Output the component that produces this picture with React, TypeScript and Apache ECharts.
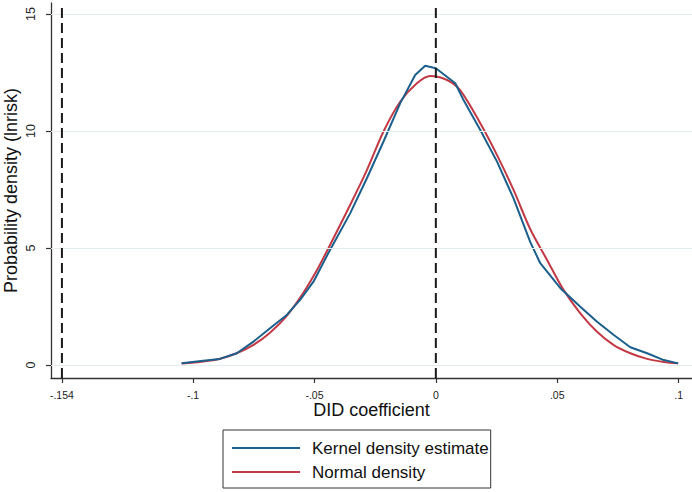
import React, { useEffect, useRef } from "react";
import * as echarts from "echarts";

const xTicks = [-0.154, -0.1, -0.05, 0, 0.05, 0.1];
const xTickLabels = ["-.154", "-.1", "-.05", "0", ".05", ".1"];
const yTicks = [0, 5, 10, 15];
const refLines = [-0.154, 0];
const yMin = -0.556;
const yMax = 15.47;

const kernelX = [-0.1047, -0.0958, -0.0889, -0.082, -0.0751, -0.0683, -0.0614, -0.0559, -0.0504, -0.0442, -0.0353, -0.0284, -0.0216, -0.0147, -0.0085, -0.0044, 0, 0.008, 0.0114, 0.0183, 0.0252, 0.032, 0.0389, 0.043, 0.0513, 0.0595, 0.0664, 0.0733, 0.0801, 0.087, 0.0939, 0.0998];
const kernelY = [0.07, 0.18, 0.26, 0.5, 1.0, 1.57, 2.14, 2.78, 3.56, 4.8, 6.48, 7.98, 9.54, 11.18, 12.39, 12.79, 12.68, 12.04, 11.32, 10.04, 8.69, 7.12, 5.25, 4.35, 3.28, 2.49, 1.85, 1.28, 0.76, 0.5, 0.21, 0.07];

const normalX = [-0.1047, -0.0958, -0.0889, -0.082, -0.0751, -0.0683, -0.0614, -0.0545, -0.049, -0.0442, -0.0353, -0.0284, -0.0216, -0.0147, -0.0078, -0.0023, 0.0046, 0.01, 0.0183, 0.0252, 0.032, 0.0389, 0.0458, 0.0526, 0.0595, 0.0664, 0.0733, 0.0801, 0.087, 0.0939, 0.0998];
const normalY = [0.06, 0.15, 0.27, 0.5, 0.86, 1.38, 2.1, 3.1, 4.05, 5.0, 6.84, 8.33, 9.97, 11.25, 12.04, 12.35, 12.18, 11.75, 10.33, 8.97, 7.48, 5.8, 4.49, 3.21, 2.21, 1.42, 0.85, 0.5, 0.26, 0.13, 0.07];

const FONT = "Liberation Sans, Arial, sans-serif";

export default function App() {
  const ref = useRef<HTMLDivElement>(null);
  useEffect(() => {
    const chart = echarts.init(ref.current!, null, { renderer: "svg" });
    chart.setOption({
      animation: false,
      backgroundColor: "#ffffff",
      textStyle: { fontFamily: FONT },
      grid: { left: 51, right: 0, top: 3, bottom: 114, containLabel: false, outerBoundsMode: "none" },
      legend: {
        orient: "vertical",
        left: 223,
        top: 430,
        padding: [6, 2, 4, 9],
        itemGap: 0,
        itemWidth: 68,
        itemHeight: 2,
        icon: "rect",
        borderColor: "#333333",
        borderWidth: 1,
        backgroundColor: "#ffffff",
        textStyle: { fontSize: 17, color: "#111111", lineHeight: 24, padding: [0, 0, 0, 7], fontFamily: FONT },
        data: ["Kernel density estimate", "Normal density"],
      },
      xAxis: {
        type: "value",
        min: -0.1585,
        max: 0.1055,
        name: "DID coefficient",
        nameLocation: "middle",
        nameGap: 23,
        nameMoveOverlap: false,
        nameTextStyle: { fontSize: 18, color: "#111111", fontFamily: FONT },
        axisLine: { show: true, onZero: false, lineStyle: { color: "#333333", width: 1.3 } },
        axisTick: { show: true, length: 5, customValues: xTicks, lineStyle: { color: "#333333", width: 1.2 } },
        axisLabel: {
          customValues: xTicks,
          margin: 11,
          fontSize: 10.5,
          color: "#222222",
          formatter: (v: number) => {
            const i = xTicks.findIndex((t) => Math.abs(t - v) < 1e-9);
            return i >= 0 ? xTickLabels[i] : "";
          },
        },
        splitLine: { show: false },
      },
      yAxis: {
        type: "value",
        min: yMin,
        max: yMax,
        name: "Probability density (lnrisk)",
        nameLocation: "middle",
        nameGap: 31,
        nameMoveOverlap: false,
        nameTextStyle: { fontSize: 18, color: "#111111", fontFamily: FONT },
        axisLine: { show: true, onZero: false, lineStyle: { color: "#333333", width: 1.3 } },
        axisTick: { show: true, length: 5, customValues: yTicks, lineStyle: { color: "#333333", width: 1.2 } },
        axisLabel: { customValues: yTicks, rotate: 90, margin: 14, fontSize: 12.5, color: "#222222" },
        splitLine: { show: false },
      },
      series: [
        {
          name: "Normal density",
          type: "line",
          z: 2,
          smooth: 0.3,
          showSymbol: false,
          symbol: "none",
          color: "#c23a45",
          itemStyle: { color: "#c23a45" },
          lineStyle: { color: "#c23a45", width: 2 },
          data: normalX.map((x, i) => [x, normalY[i]]),
          markLine: {
            silent: true,
            symbol: "none",
            label: { show: false },
            lineStyle: { color: "#e3edf0", width: 1.2, type: "solid" },
            data: yTicks.map((y) => ({ yAxis: y })),
          },
        },
        {
          name: "Kernel density estimate",
          type: "line",
          z: 3,
          smooth: false,
          showSymbol: false,
          symbol: "none",
          color: "#1b5f8c",
          itemStyle: { color: "#1b5f8c" },
          lineStyle: { color: "#1b5f8c", width: 2 },
          data: kernelX.map((x, i) => [x, kernelY[i]]),
        },
        ...refLines.map((x, k) => ({
          name: "ref" + k,
          type: "line",
          z: 5,
          silent: true,
          showSymbol: false,
          symbol: "none",
          lineStyle: { color: "#1a1a1a", width: 2, type: [10, 5] },
          data: [
            [x, yMin],
            [x, yMax],
          ],
        })),
      ],
    });
    return () => chart.dispose();
  }, []);
  return (
    <div
      ref={ref}
      style={{ position: "absolute", left: 0, top: 0, width: 692, height: 492, background: "#ffffff" }}
    />
  );
}
